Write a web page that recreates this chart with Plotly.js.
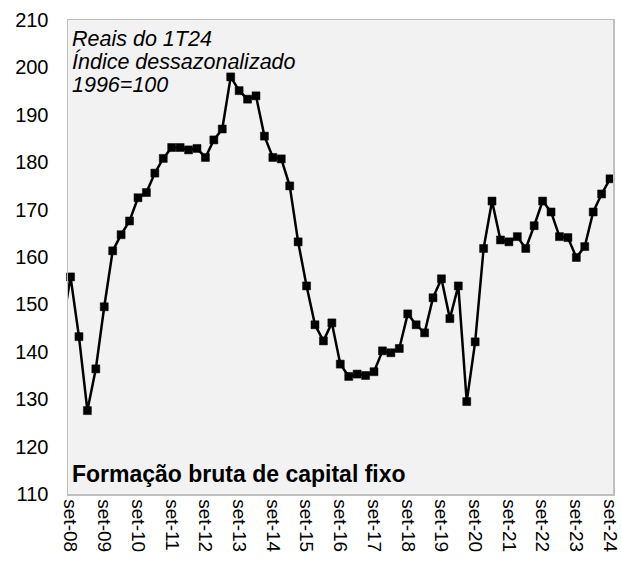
<!DOCTYPE html>
<html>
<head>
<meta charset="utf-8">
<script src="https://cdn.plot.ly/plotly-3.0.1.min.js"></script>
<style>html,body{margin:0;padding:0;background:#fff;}#chart{width:621px;height:570px;}</style>
</head>
<body>
<div id="chart"></div>
<script>
// Quarter positions: -1 = jun-08 (clipped lead-in), 0 = set-08 ... 64 = set-24
const quarterIndex = [];
for (let i = -1; i <= 64; i++) quarterIndex.push(i);

// FBCF index, seasonally adjusted, 1996=100 (jun-08 .. set-24)
const fbcf = [
  145.0,
  155.8, 143.2, 127.6, 136.4, 149.5, 161.3, 164.7, 167.6, 172.5, 173.6,
  177.7, 180.8, 183.1, 183.1, 182.6, 182.9, 181.0, 184.7, 187.0, 198.0,
  195.1, 193.3, 194.0, 185.5, 181.0, 180.7, 175.0, 163.2, 153.9, 145.7,
  142.3, 146.1, 137.4, 134.8, 135.3, 135.0, 135.8, 140.2, 139.8, 140.7,
  148.0, 145.7, 144.0, 151.4, 155.4, 147.0, 153.9, 129.5, 142.1, 161.8,
  171.8, 163.6, 163.2, 164.3, 161.8, 166.6, 171.8, 169.5, 164.3, 164.1,
  159.9, 162.2, 169.5, 173.3, 176.5
];

const tickPositions = [0, 4, 8, 12, 16, 20, 24, 28, 32, 36, 40, 44, 48, 52, 56, 60, 64];
const tickLabels = ["set-08","set-09","set-10","set-11","set-12","set-13","set-14","set-15",
  "set-16","set-17","set-18","set-19","set-20","set-21","set-22","set-23","set-24"];

const yTicks = [110, 120, 130, 140, 150, 160, 170, 180, 190, 200, 210];

const noteLines = ["Reais do 1T24", "Índice dessazonalizado", "1996=100"];
const seriesTitle = "Formação bruta de capital fixo";

const markerSizes = quarterIndex.map(q => q < 0 ? 0 : 8);

const font = "Liberation Sans, Arial, sans-serif";

const trace = {
  x: quarterIndex,
  y: fbcf,
  type: "scatter",
  mode: "lines+markers",
  line: {color: "#000000", width: 2.5},
  marker: {symbol: "square", size: markerSizes, color: "#000000", opacity: 1,
           line: {width: 0.5, color: "#000000"}},
  opacity: 1,
  cliponaxis: false,
  hoverinfo: "skip"
};

const noteY = [0.960, 0.912, 0.862];
const annotations = noteLines.map((t, i) => ({
  text: t, xref: "paper", yref: "paper", x: 0.003, y: noteY[i],
  xanchor: "left", yanchor: "middle", showarrow: false,
  font: {family: font, size: 21.5, color: "#000", style: "italic"}
}));
annotations.push({
  text: "<b>" + seriesTitle + "</b>", xref: "paper", yref: "paper", x: 0.003, y: 0.042,
  xanchor: "left", yanchor: "middle", showarrow: false,
  font: {family: font, size: 23, color: "#000"}
});

const layout = {
  width: 621, height: 570,
  margin: {l: 67.5, r: 8, t: 20, b: 76, pad: 0},
  paper_bgcolor: "#ffffff",
  plot_bgcolor: "#f2f2f2",
  showlegend: false,
  font: {family: font, size: 20, color: "#000"},
  xaxis: {
    range: [-0.3, 64.35],
    tickvals: tickPositions, ticktext: tickLabels,
    tickangle: 90,
    ticks: "", ticklen: 0,
    ticklabeloverflow: "allow",
    showgrid: false, zeroline: false,
    showline: true, linecolor: "#bfbfbf", linewidth: 1.5, mirror: true,
    tickfont: {family: font, size: 19, color: "#000"}
  },
  yaxis: {
    range: [110, 210],
    tickvals: yTicks,
    ticks: "outside", ticklen: 14, tickcolor: "rgba(0,0,0,0)",
    showgrid: false, zeroline: false,
    showline: true, linecolor: "#bfbfbf", linewidth: 1.5, mirror: true,
    tickfont: {family: font, size: 20, color: "#000"}
  },
  annotations: annotations
};

Plotly.newPlot("chart", [trace], layout, {displayModeBar: false, staticPlot: true});
</script>
</body>
</html>
